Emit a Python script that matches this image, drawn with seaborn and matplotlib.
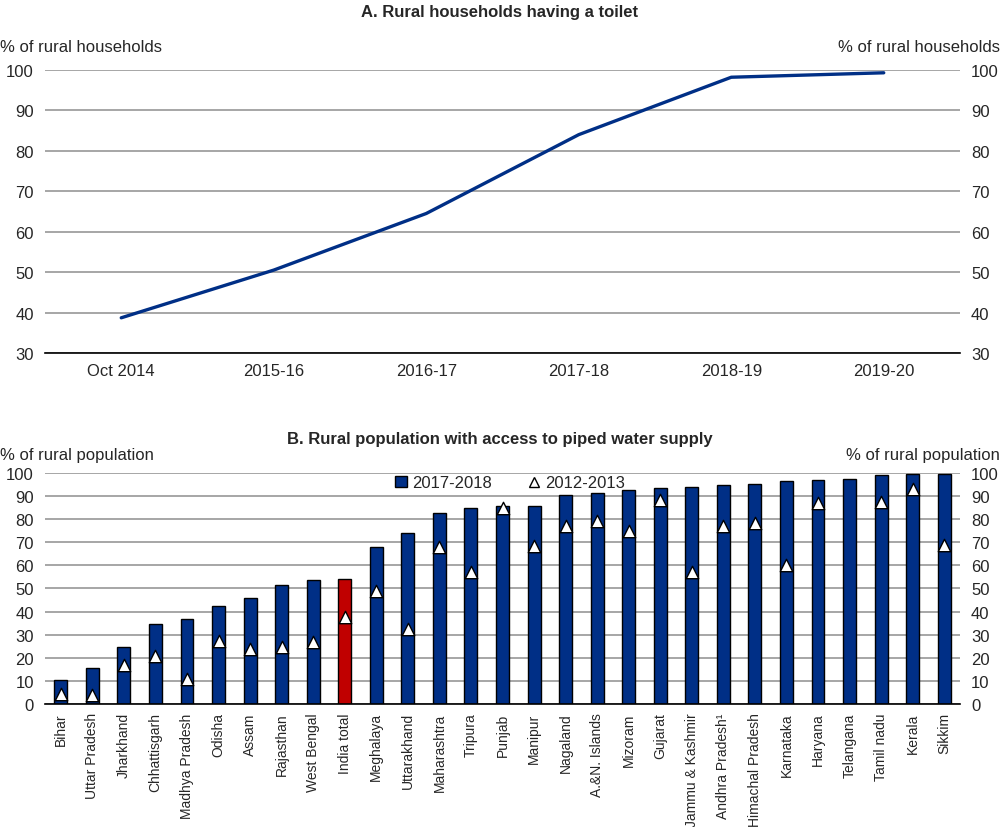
import numpy as np
import pandas as pd
import matplotlib
matplotlib.use("Agg")
import matplotlib.pyplot as plt
import seaborn as sns
from matplotlib.lines import Line2D
from matplotlib.patches import Patch

sns.set_theme(style="white")
plt.rcParams['font.family'] = ['Liberation Sans', 'DejaVu Sans']

# Panel A data
periods = ['Oct 2014', '2015-16', '2016-17', '2017-18', '2018-19', '2019-20']
toilet_share = [38.7, 50.5, 64.5, 84.0, 98.2, 99.3]

# Panel B data
states = ['Bihar', 'Uttar Pradesh', 'Jharkhand', 'Chhattisgarh', 'Madhya Pradesh',
          'Odisha', 'Assam', 'Rajasthan', 'West Bengal', 'India total', 'Meghalaya',
          'Uttarakhand', 'Maharashtra', 'Tripura', 'Punjab', 'Manipur', 'Nagaland',
          'A.&N. Islands', 'Mizoram', 'Gujarat', 'Jammu & Kashmir', 'Andhra Pradesh¹',
          'Himachal Pradesh', 'Karnataka', 'Haryana', 'Telangana', 'Tamil nadu',
          'Kerala', 'Sikkim']
water_2017 = [10.5, 15.4, 24.7, 34.6, 36.9, 42.4, 45.7, 51.6, 53.6, 54.0, 68.1,
              73.9, 82.8, 84.9, 85.8, 85.9, 90.4, 91.2, 92.5, 93.5, 94.0, 94.7,
              95.3, 96.3, 97.0, 97.3, 98.9, 99.6, 99.6]
water_2012 = [4.3, 3.9, 16.8, 20.7, 10.8, 27.2, 23.7, 24.7, 26.9, 37.6, 49.1,
              32.6, 68.1, 57.0, 84.8, 68.2, 77.2, 79.3, 75.0, 88.2, 57.3, 77.2,
              78.3, 60.2, 87.2, np.nan, 87.5, 93.2, 68.8]

navy = '#002F86'
red = '#C00000'
grid_col = '#A6A6A6'

fig = plt.figure(figsize=(10, 8.28), dpi=100)

# ---------- Panel A ----------
ax1 = fig.add_axes([0.045, 0.5725, 0.915, 0.3418])
dfa = pd.DataFrame({'x': np.arange(len(periods)), 'y': toilet_share})
sns.lineplot(data=dfa, x='x', y='y', ax=ax1, color=navy, linewidth=2.4, sort=False)
ax1.set_xlim(-0.5, len(periods) - 0.5)
ax1.set_ylim(30, 100)
ax1.set_yticks(range(30, 101, 10))
ax1.yaxis.grid(True, color=grid_col, linewidth=1.4)
ax1.set_axisbelow(True)
ax1.set_xticks(np.arange(len(periods)))
ax1.set_xticklabels(periods, fontsize=12)
ax1.set_xticks(np.arange(-0.5, len(periods)), minor=True)
ax1.tick_params(axis='x', which='major', length=0, pad=7)
ax1.tick_params(axis='x', which='minor', length=5, direction='in', color='black', width=1)
ax1.tick_params(axis='y', length=0, labelleft=True, labelright=True, labelsize=12, pad=8)
for s in ['top', 'left', 'right']:
    ax1.spines[s].set_visible(False)
ax1.spines['bottom'].set_color('black')
ax1.spines['bottom'].set_linewidth(1.2)
ax1.set_xlabel('')
ax1.set_ylabel('')
fig.text(0.5, 1 - 12 / 828, 'A. Rural households having a toilet', ha='center', va='center',
         fontsize=12, fontweight='bold')
fig.text(0.0, 1 - 48 / 828, '% of rural households', ha='left', va='center', fontsize=12)
fig.text(1.0, 1 - 48 / 828, '% of rural households', ha='right', va='center', fontsize=12)

# ---------- Panel B ----------
ax2 = fig.add_axes([0.045, 0.1486, 0.915, 0.2790])
dfb = pd.DataFrame({'state': states, 'v2017': water_2017, 'v2012': water_2012})
bar_colors = [red if s == 'India total' else navy for s in states]
sns.barplot(data=dfb, x='state', y='v2017', hue='state', palette=bar_colors,
            legend=False, ax=ax2, width=0.41, edgecolor='black', linewidth=1.0,
            saturation=1)
sns.scatterplot(x=np.arange(len(states)), y=dfb['v2012'], ax=ax2, marker='^', s=80,
                color='white', edgecolor='black', linewidth=1.0, zorder=5)
ax2.set_xlim(-0.5, len(states) - 0.5)
ax2.set_ylim(0, 100)
ax2.set_yticks(range(0, 101, 10))
ax2.yaxis.grid(True, color=grid_col, linewidth=1.4)
ax2.set_axisbelow(True)
ax2.set_xticks(np.arange(len(states)))
ax2.set_xticklabels(states, rotation=90, fontsize=10)
ax2.set_xticks(np.arange(-0.5, len(states)), minor=True)
ax2.tick_params(axis='x', which='major', length=0, pad=6)
ax2.tick_params(axis='x', which='minor', length=5, direction='in', color='black', width=1)
ax2.tick_params(axis='y', length=0, labelleft=True, labelright=True, labelsize=12, pad=8)
for s in ['top', 'left', 'right']:
    ax2.spines[s].set_visible(False)
ax2.spines['bottom'].set_color('black')
ax2.spines['bottom'].set_linewidth(1.2)
ax2.set_xlabel('')
ax2.set_ylabel('')

handles = [Patch(facecolor=navy, edgecolor='black', label='2017-2018'),
           Line2D([], [], marker='^', linestyle='none', markerfacecolor='white',
                  markeredgecolor='black', markersize=7, label='2012-2013')]
ax2.legend(handles=handles, ncol=2, frameon=False, loc='center',
           bbox_to_anchor=(0.508, 0.957), fontsize=12, columnspacing=2.2,
           handlelength=0.7, handletextpad=0.3, borderaxespad=0)

fig.text(0.5, 1 - 440 / 828, 'B. Rural population with access to piped water supply',
         ha='center', va='center', fontsize=12, fontweight='bold')
fig.text(0.0, 1 - 456 / 828, '% of rural population', ha='left', va='center', fontsize=12)
fig.text(1.0, 1 - 456 / 828, '% of rural population', ha='right', va='center', fontsize=12)

fig.savefig('out.png', dpi=100)
